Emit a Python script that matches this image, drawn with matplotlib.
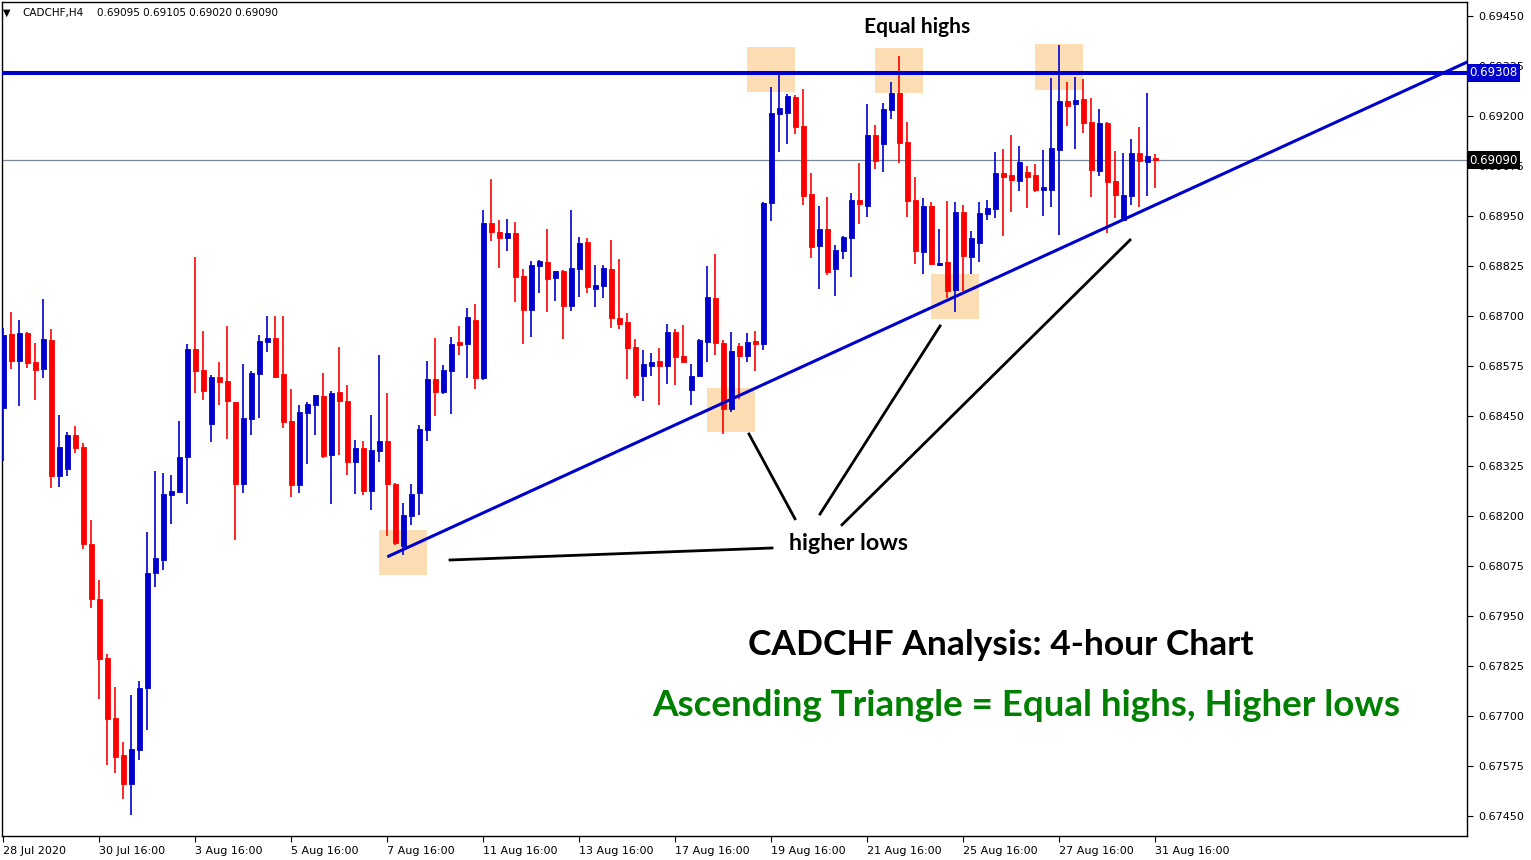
import matplotlib
matplotlib.use('Agg')
import matplotlib.pyplot as plt
from matplotlib.patches import Rectangle
from matplotlib.transforms import blended_transform_factory
import numpy as np

# ---------------- data (CADCHF H4) ----------------
symbol = "CADCHF,H4"
last_ohlc = "0.69095 0.69105 0.69020 0.69090"

opens = [0.68470, 0.68655, 0.68588, 0.68658, 0.68585, 0.68568, 0.68640, 0.68300, 0.68318, 0.68403,
         0.68373, 0.68130, 0.67993, 0.67845, 0.67695, 0.67603, 0.67531, 0.67614, 0.67770, 0.68058,
         0.68089, 0.68253, 0.68260, 0.68348, 0.68618, 0.68565, 0.68430, 0.68548, 0.68538, 0.68485,
         0.68279, 0.68443, 0.68554, 0.68636, 0.68645, 0.68555, 0.68438, 0.68278, 0.68458, 0.68478,
         0.68500, 0.68353, 0.68510, 0.68488, 0.68336, 0.68370, 0.68263, 0.68363, 0.68388, 0.68280,
         0.68126, 0.68201, 0.68257, 0.68416, 0.68542, 0.68511, 0.68563, 0.68635, 0.68631, 0.68690,
         0.68546, 0.68933, 0.68910, 0.68895, 0.68908, 0.68800, 0.68716, 0.68826, 0.68835, 0.68796,
         0.68813, 0.68726, 0.68818, 0.68885, 0.68768, 0.68776, 0.68818, 0.68695, 0.68685, 0.68623,
         0.68551, 0.68576, 0.68588, 0.68576, 0.68660, 0.68600, 0.68516, 0.68551, 0.68636, 0.68745,
         0.68633, 0.68468, 0.68625, 0.68601, 0.68638, 0.68630, 0.68983, 0.69206, 0.69208, 0.69248,
         0.69175, 0.69005, 0.68876, 0.68918, 0.68818, 0.68863, 0.68896, 0.68990, 0.68976, 0.69153,
         0.69131, 0.69216, 0.69258, 0.69135, 0.68990, 0.68861, 0.68975, 0.68828, 0.68836, 0.68766,
         0.68960, 0.68848, 0.68883, 0.68956, 0.68968, 0.69058, 0.69053, 0.69038, 0.69060, 0.69053,
         0.69016, 0.69016, 0.69116, 0.69238, 0.69231, 0.69243, 0.69185, 0.69063, 0.69183, 0.69038,
         0.68941, 0.69001, 0.69108, 0.69086, 0.69095]

highs = [0.68670, 0.68710, 0.68690, 0.68660, 0.68633, 0.68743, 0.68668, 0.68453, 0.68410, 0.68425,
         0.68383, 0.68190, 0.68040, 0.67855, 0.67773, 0.67635, 0.67753, 0.67788, 0.68160, 0.68313,
         0.68308, 0.68303, 0.68438, 0.68630, 0.68848, 0.68663, 0.68553, 0.68585, 0.68675, 0.68485,
         0.68580, 0.68563, 0.68653, 0.68700, 0.68700, 0.68700, 0.68518, 0.68478, 0.68485, 0.68503,
         0.68558, 0.68513, 0.68623, 0.68528, 0.68390, 0.68388, 0.68453, 0.68603, 0.68508, 0.68283,
         0.68233, 0.68280, 0.68428, 0.68588, 0.68646, 0.68578, 0.68648, 0.68675, 0.68720, 0.68730,
         0.68964, 0.69043, 0.68940, 0.68943, 0.68935, 0.68818, 0.68838, 0.68840, 0.68918, 0.68813,
         0.68815, 0.68965, 0.68898, 0.68895, 0.68828, 0.68828, 0.68890, 0.68843, 0.68708, 0.68643,
         0.68615, 0.68608, 0.68620, 0.68680, 0.68668, 0.68678, 0.68580, 0.68643, 0.68825, 0.68855,
         0.68640, 0.68661, 0.68633, 0.68658, 0.68663, 0.68985, 0.69273, 0.69308, 0.69255, 0.69253,
         0.69268, 0.69058, 0.68976, 0.68998, 0.68878, 0.68901, 0.69008, 0.69083, 0.69230, 0.69178,
         0.69233, 0.69285, 0.69350, 0.69185, 0.69048, 0.68995, 0.68985, 0.68918, 0.68988, 0.68985,
         0.68978, 0.68913, 0.68985, 0.68990, 0.69110, 0.69118, 0.69153, 0.69125, 0.69075, 0.69080,
         0.69115, 0.69295, 0.69378, 0.69285, 0.69298, 0.69293, 0.69245, 0.69218, 0.69185, 0.69113,
         0.69108, 0.69143, 0.69173, 0.69258, 0.69105]

lows = [0.68338, 0.68568, 0.68475, 0.68570, 0.68490, 0.68545, 0.68270, 0.68273, 0.68300, 0.68358,
        0.68118, 0.67970, 0.67743, 0.67578, 0.67558, 0.67493, 0.67453, 0.67589, 0.67664, 0.68022,
        0.68066, 0.68180, 0.68258, 0.68230, 0.68508, 0.68490, 0.68385, 0.68478, 0.68393, 0.68141,
        0.68258, 0.68403, 0.68446, 0.68611, 0.68546, 0.68419, 0.68248, 0.68258, 0.68331, 0.68403,
        0.68346, 0.68231, 0.68353, 0.68303, 0.68256, 0.68253, 0.68216, 0.68336, 0.68150, 0.68128,
        0.68103, 0.68178, 0.68203, 0.68388, 0.68451, 0.68504, 0.68456, 0.68603, 0.68546, 0.68518,
        0.68541, 0.68888, 0.68821, 0.68863, 0.68736, 0.68631, 0.68648, 0.68758, 0.68711, 0.68738,
        0.68643, 0.68713, 0.68748, 0.68758, 0.68723, 0.68746, 0.68671, 0.68668, 0.68543, 0.68495,
        0.68488, 0.68551, 0.68478, 0.68531, 0.68528, 0.68585, 0.68478, 0.68550, 0.68586, 0.68603,
        0.68406, 0.68461, 0.68493, 0.68586, 0.68563, 0.68615, 0.68938, 0.69111, 0.69130, 0.69156,
        0.68978, 0.68846, 0.68768, 0.68803, 0.68751, 0.68843, 0.68798, 0.68931, 0.68948, 0.69068,
        0.69061, 0.69193, 0.69083, 0.68948, 0.68831, 0.68806, 0.68828, 0.68826, 0.68746, 0.68711,
        0.68763, 0.68806, 0.68836, 0.68941, 0.68946, 0.68901, 0.68961, 0.69013, 0.68971, 0.69011,
        0.68951, 0.68973, 0.68903, 0.69176, 0.69118, 0.69158, 0.68998, 0.69051, 0.68908, 0.68946,
        0.68938, 0.68978, 0.68973, 0.69001, 0.69020]

closes = [0.68653, 0.68588, 0.68658, 0.68583, 0.68565, 0.68643, 0.68300, 0.68373, 0.68403, 0.68369,
          0.68131, 0.67993, 0.67843, 0.67693, 0.67598, 0.67531, 0.67618, 0.67771, 0.68058, 0.68095,
          0.68255, 0.68263, 0.68348, 0.68618, 0.68563, 0.68513, 0.68548, 0.68535, 0.68488, 0.68280,
          0.68445, 0.68558, 0.68638, 0.68645, 0.68548, 0.68436, 0.68278, 0.68460, 0.68480, 0.68503,
          0.68351, 0.68508, 0.68488, 0.68336, 0.68370, 0.68263, 0.68365, 0.68388, 0.68279, 0.68133,
          0.68203, 0.68255, 0.68417, 0.68543, 0.68511, 0.68564, 0.68631, 0.68628, 0.68698, 0.68546,
          0.68933, 0.68911, 0.68895, 0.68908, 0.68798, 0.68716, 0.68828, 0.68838, 0.68793, 0.68813,
          0.68726, 0.68820, 0.68883, 0.68773, 0.68778, 0.68820, 0.68696, 0.68681, 0.68621, 0.68503,
          0.68580, 0.68585, 0.68576, 0.68660, 0.68598, 0.68586, 0.68550, 0.68640, 0.68748, 0.68633,
          0.68468, 0.68613, 0.68601, 0.68635, 0.68631, 0.68983, 0.69208, 0.69220, 0.69250, 0.69173,
          0.69001, 0.68873, 0.68918, 0.68811, 0.68865, 0.68898, 0.68990, 0.68981, 0.69153, 0.69088,
          0.69218, 0.69258, 0.69133, 0.68988, 0.68863, 0.68975, 0.68831, 0.68833, 0.68763, 0.68960,
          0.68851, 0.68895, 0.68958, 0.68970, 0.69058, 0.69048, 0.69041, 0.69085, 0.69048, 0.69016,
          0.69023, 0.69120, 0.69238, 0.69226, 0.69240, 0.69183, 0.69066, 0.69183, 0.69036, 0.69003,
          0.69003, 0.69108, 0.69088, 0.69100, 0.69090]

x_tick_pos = [0, 12, 24, 36, 48, 60, 72, 84, 96, 108, 120, 132, 144]
x_tick_labels = ["28 Jul 2020", "30 Jul 16:00", "3 Aug 16:00", "5 Aug 16:00", "7 Aug 16:00",
                 "11 Aug 16:00", "13 Aug 16:00", "17 Aug 16:00", "19 Aug 16:00", "21 Aug 16:00",
                 "25 Aug 16:00", "27 Aug 16:00", "31 Aug 16:00"]
y_ticks = [0.67450, 0.67575, 0.67700, 0.67825, 0.67950, 0.68075, 0.68200, 0.68325, 0.68450,
           0.68575, 0.68700, 0.68825, 0.68950, 0.69075, 0.69200, 0.69325, 0.69450]

resistance = 0.69308
last_price = 0.69090

# trendline anchors (candle index, price)
trend_x = [48.0, 140.0]
trend_y = [0.68098, 0.68941]

# highlight boxes: (x0, y0, x1, y1) in candle index / price
boxes = [(47.0, 0.68053, 53.0, 0.68165),
         (88.0, 0.68410, 94.0, 0.68520),
         (116.0, 0.68693, 122.0, 0.68805),
         (93.0, 0.69260, 99.0, 0.69373),
         (109.0, 0.69258, 115.0, 0.69370),
         (129.0, 0.69265, 135.0, 0.69380)]

# pointer lines
pointers = [((55.84, 0.68090), (96.09, 0.68120)),
            ((93.21, 0.68405), (98.96, 0.68193)),
            ((102.09, 0.68205), (117.09, 0.68675)),
            ((104.84, 0.68178), (140.84, 0.68890))]

BLUE = '#0000CD'
RED = '#FF0000'
BOX = '#FDDDB3'
GREEN = '#008000'

# ---------------- figure ----------------
W, H = 1531, 860
fig = plt.figure(figsize=(W / 100, H / 100), dpi=100)
fig.patch.set_facecolor('white')
ax = fig.add_axes([2 / W, (H - 836) / H, (1467 - 2) / W, (836 - 2) / H])
ax.set_facecolor('white')
ax.set_xlim(-0.16, 182.96)
ax.set_ylim(0.67400, 0.69485)

# boxes
for (x0, y0, x1, y1) in boxes:
    ax.add_patch(Rectangle((x0, y0), x1 - x0, y1 - y0, facecolor=BOX, edgecolor='none', zorder=1))

# last price line
ax.axhline(last_price, color='#778899', linewidth=0.9, zorder=1.5)

# candles
o = np.array(opens); h = np.array(highs); l = np.array(lows); c = np.array(closes)
x = np.arange(len(o))
cols = np.where(c >= o, BLUE, RED)
ax.vlines(x, l, h, colors=cols, linewidth=1.2, zorder=3)
ax.bar(x, np.abs(c - o), width=0.58, bottom=np.minimum(o, c), color=cols,
       edgecolor=cols, linewidth=0.6, zorder=3.5)

# resistance line
ax.axhline(resistance, color=BLUE, linewidth=2.9, zorder=4)

# trendline extended to the right
slope = (trend_y[1] - trend_y[0]) / (trend_x[1] - trend_x[0])
tx = np.array([trend_x[0], 190.0])
ax.plot(tx, trend_y[0] + slope * (tx - trend_x[0]), color=BLUE, linewidth=2.2,
        solid_capstyle='butt', zorder=4)

# pointer lines
for (p0, p1) in pointers:
    ax.plot([p0[0], p1[0]], [p0[1], p1[1]], color='black', linewidth=2.0, zorder=4.5)

# axes styling
for s in ax.spines.values():
    s.set_color('black')
    s.set_linewidth(1.0)
ax.yaxis.tick_right()
ax.set_yticks(y_ticks)
ax.set_yticklabels([f'{v:.5f}' for v in y_ticks])
ax.tick_params(axis='y', direction='out', length=4, width=0.8, labelsize=8, pad=4, colors='black')
ax.set_xticks(x_tick_pos)
ax.set_xticklabels(x_tick_labels)
for lab in ax.get_xticklabels():
    lab.set_horizontalalignment('left')
ax.tick_params(axis='x', direction='out', length=4, width=0.8, labelsize=8, pad=3, colors='black')

# price label boxes on the right axis (they cover the nearby tick labels, as in MT4)
trans = blended_transform_factory(ax.transAxes, ax.transData)
ax.text(1.0015, resistance, f'{resistance:.5f}', transform=trans, ha='left', va='center',
        fontsize=8.5, color='white', zorder=10, clip_on=False,
        bbox=dict(boxstyle='square,pad=0.22', fc=BLUE, ec='none'))
ax.text(1.0015, last_price, f'{last_price:.5f}', transform=trans, ha='left', va='center',
        fontsize=8.5, color='white', zorder=10, clip_on=False,
        bbox=dict(boxstyle='square,pad=0.22', fc='black', ec='none'))

# top-left info
def fx(px):
    return px / W

def fy(py):
    return 1 - py / H

fig.text(fx(3), fy(13), '\u25BC', fontsize=7, ha='left', va='center', color='black')
fig.text(fx(22), fy(13), symbol, fontsize=7.5, ha='left', va='center', color='black')
fig.text(fx(97), fy(13), last_ohlc, fontsize=7.5, ha='left', va='center', color='black')

# annotation texts
FONT = 'Lato'
t1 = fig.text(fx(917), fy(27), 'Equal highs', fontsize=14, fontweight='bold', family=FONT,
              ha='center', va='center', color='black')
t2 = fig.text(fx(849), fy(543), 'higher lows', fontsize=14, fontweight='bold', family=FONT,
              ha='center', va='center', color='black')
t3 = fig.text(fx(1001), fy(645), 'CADCHF Analysis: 4-hour Chart', fontsize=24, fontweight='bold',
              family=FONT, ha='center', va='center', color='black')
t4 = fig.text(fx(1026), fy(706), 'Ascending Triangle = Equal highs, Higher lows', fontsize=24,
              fontweight='bold', family=FONT, ha='center', va='center', color=GREEN)

fig.canvas.draw()
r = fig.canvas.get_renderer()
for t, target in [(t1, 107), (t2, 120), (t3, 506), (t4, 751)]:
    w = t.get_window_extent(r).width
    t.set_fontsize(t.get_fontsize() * target / w)

fig.savefig('out.png', dpi=100, facecolor='white')
